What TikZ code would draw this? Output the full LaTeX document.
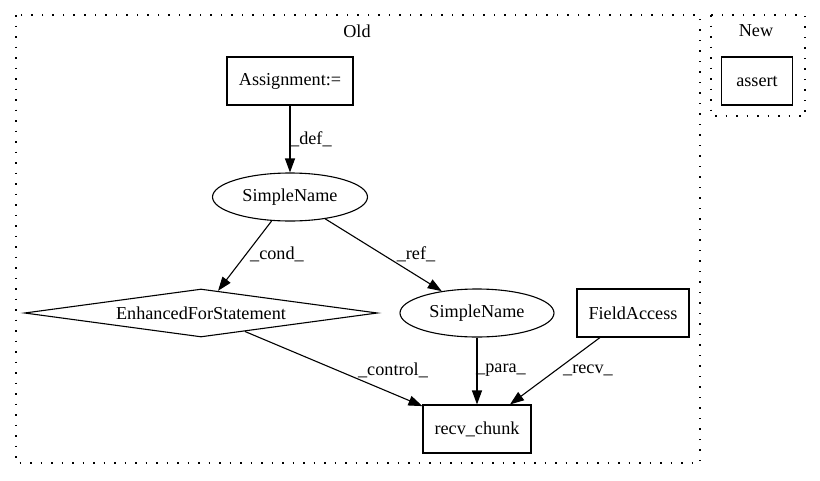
\documentclass[tikz,border=0pt]{standalone}
\usepackage{fontspec}
\setmainfont{Liberation Serif}
\usetikzlibrary{shapes.geometric,arrows.meta}
\begin{document}
\begin{tikzpicture}[x=1pt,y=-1pt,
  every node/.style={font=\fontsize{18.2}{22}\selectfont, inner sep=0pt},
  box/.style={draw, line width=1.1pt, rectangle, minimum height=48pt},
  ell/.style={draw, line width=1.1pt, ellipse, minimum height=48pt},
  dia/.style={draw, line width=1.1pt, diamond, aspect=7.35, minimum width=353pt, minimum height=48pt},
  cluster/.style={line width=1.5pt, dash pattern=on 1.5pt off 9pt},
  edge/.style={line width=1.1pt, -{Triangle[length=14pt,width=10pt]}},
  lbl/.style={font=\fontsize{18.2}{22}\selectfont}
]
\useasboundingbox (0,0) rectangle (820,480);
\fill[white] (0,0) rectangle (820,480);
% clusters
\draw[cluster] (16,15) rectangle (700,463);
\draw[cluster] (711,15) rectangle (805,116);
\node (oldlbl) at (357,31) {Old};
\node (newlbl) at (756,31) {New};
% nodes
\node[box, minimum width=126pt] (assign) at (290,81) {Assignment:=};
\node[ell, minimum width=155pt] (sn1) at (290,197) {SimpleName};
\node[dia] (efs) at (201,313) {EnhancedForStatement};
\node[ell, minimum width=154pt] (sn2) at (477,313) {SimpleName};
\node[box, minimum width=112pt] (fa) at (633,313) {FieldAccess};
\node[box, minimum width=108pt] (rc) at (477,429) {recv\_chunk};
\node[box, minimum width=71pt] (asrt) at (757,81) {assert};
% edges
\draw[edge] (assign) -- (sn1);
\draw[edge] (sn1) -- (efs);
\draw[edge] (sn1) -- (sn2);
\draw[edge] (efs) -- (rc);
\draw[edge] (sn2) -- (rc);
\draw[edge] (fa) -- (rc);
% edge labels
\node[lbl, anchor=west] (ldef) at (290,139) {\_def\_};
\node[lbl] (lcond) at (277,254) {\_cond\_};
\node[lbl] (lref) at (416,254) {\_ref\_};
\node[lbl] (lcontrol) at (393,370) {\_control\_};
\node[lbl] (lpara) at (501,370) {\_para\_};
\node[lbl] (lrecv) at (588,370) {\_recv\_};
\end{tikzpicture}
\end{document}
